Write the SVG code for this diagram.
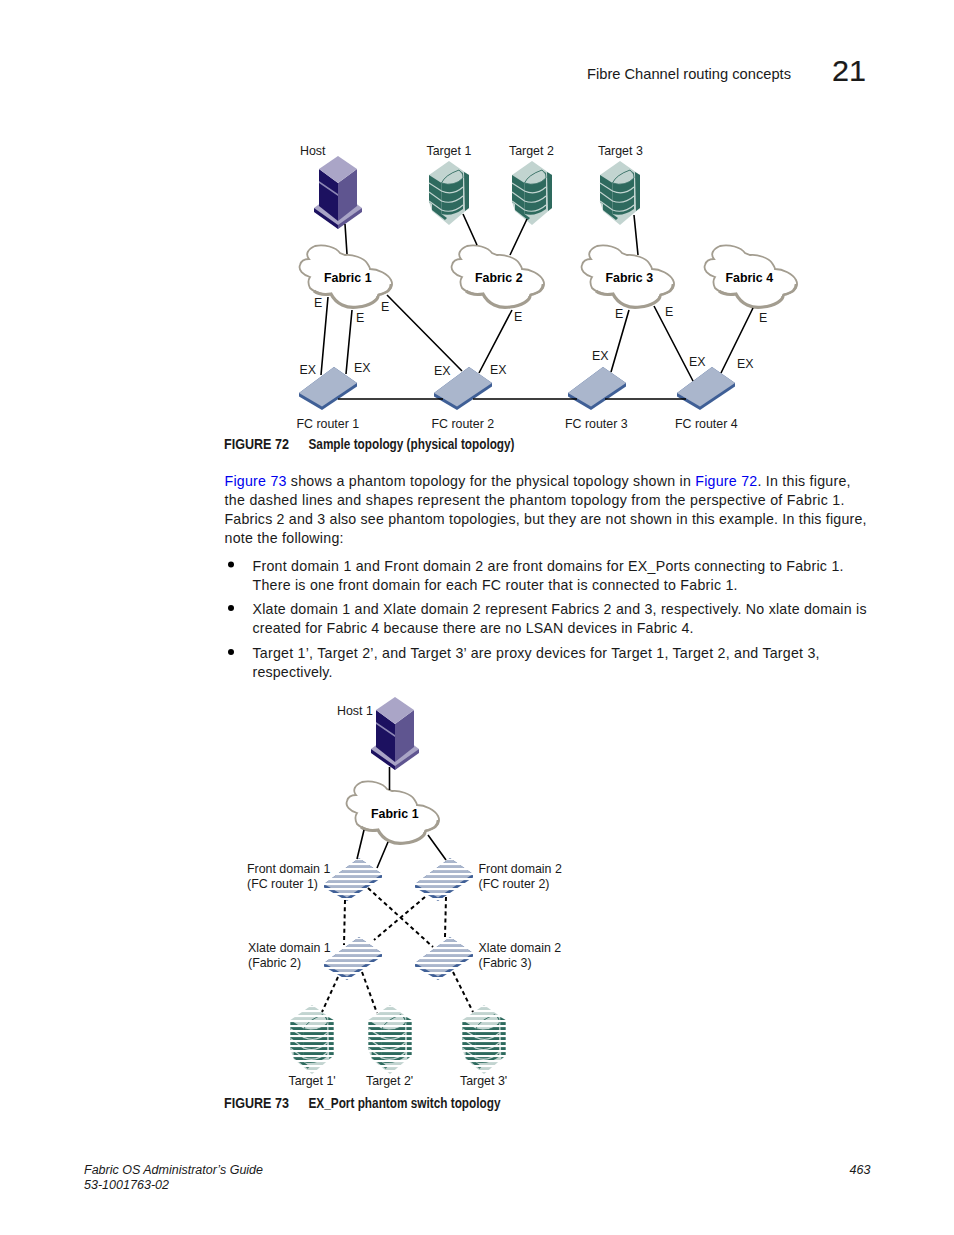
<svg xmlns="http://www.w3.org/2000/svg" xmlns:xlink="http://www.w3.org/1999/xlink" width="954" height="1235" viewBox="0 0 954 1235">
<style>
text{font-family:"Liberation Sans",Arial,sans-serif;fill:#1a1a1a}
.l{font-size:12.4px}
.b{font-size:14.2px}
.f{font-size:12.4px;font-weight:700;fill:#000}
.c{font-family:"Liberation Sans Narrow","Liberation Sans",sans-serif;font-weight:700;font-size:15px}
.i{font-size:12.5px;font-style:italic}
.a{fill:#0000ee}
.s{stroke:#000;stroke-width:1.6;fill:none}
.d{stroke:#000;stroke-width:2;stroke-dasharray:4 3.2;fill:none}
</style>
<defs>
<g id="host">
<polygon points="-24,52 0,34 24,52 0,73" fill="#a9a4c6"/>
<polygon points="-24,52 0,69 0,73 -24,56" fill="#1c1160"/>
<polygon points="24,52 0,69 0,73 24,56" fill="#5f5590"/>
<polygon points="-19,13 0,27 0,65 -19,50" fill="#1c1160"/>
<polygon points="19,13 0,27 0,65 19,50" fill="#5f5590"/>
<polygon points="-19,25 0,38 0,40 -19,27" fill="#8d87b4"/>
<polygon points="0,0 19,13 0,27 -19,13" fill="#aaa5c7"/>
</g>
<g id="tgt">
<polygon points="0,0 20,14 20,47 0,64 -17,50 -20,41 -20,14" fill="#c2d4d0"/>
<polygon points="-20,14 -7.5,22 -7.5,53 -2,57 -4,59 -17,49 -17,43 -20,41" fill="#2e6a5e"/>
<polygon points="15,11 20,14 20,47 16,50" fill="#2e6a5e"/>
<path d="M-7.5,22Q-4,14 10,9L14,12V48Q3,56 -7.5,53Z" fill="#2e6a5e"/>
<path d="M-7.5,22Q-4,14 10,9Q15,13 14,17Q5,26 -7.5,22Z" fill="#c2d4d0" stroke="#2e6a5e" stroke-width=".8"/>
<path d="M-20,22L-7.5,30Q4,35 14,26M-20,31L-7.5,40Q4,44 14,35M-20,40L-7.5,49Q4,53 14,44" fill="none" stroke="#c2d4d0" stroke-width="1.2"/>
</g>
<g id="rtr">
<polygon points="0,0 23,16 23,19.500 -12,43 -35,29.500 -35,26" fill="#3f5f96"/>
<polygon points="0,0 23,16 -12,39.500 -35,26" fill="#aab6cc"/>
</g>
<g id="cloud">
<path d="M10,31C3,29 -2,24 0,19C1,15 5,13 9,13C5,8 8,3 15,0C24,-2 36,1 40,7L45,9C52,8 64,12 67,17C69,20 70,22 70,23C78,23 88,28 91,34C94,40 90,45 85,47C82,48 79,48 78,49C78,54 70,60 58,61C47,63 36,58 31,48C25,49 15,47 10,42C8,38 8,34 10,31Z" fill="#fff" stroke="#a39d90" stroke-width="1.8"/>
<path d="M78,50C78,54 70,60 58,61C47,63 36,58 31,48C25,49 18,48 14,45" fill="none" stroke="#a39d90" stroke-width="3.2"/>
<path d="M91,38C91,44 87,47 78,49" fill="none" stroke="#a39d90" stroke-width="2.6"/>
</g>
<pattern id="st" patternUnits="userSpaceOnUse" width="10" height="5"><rect width="10" height="2.1" fill="#fff"/></pattern>
<g id="prt"><use xlink:href="#rtr"/><rect x="-37" y="1" width="63" height="44" fill="url(#st)"/></g>
</defs>

<g id="page-text">
<text x="587" y="79" font-size="14.3" textLength="204" lengthAdjust="spacingAndGlyphs">Fibre Channel routing concepts</text>
<text x="832" y="81" font-size="30" textLength="34" lengthAdjust="spacingAndGlyphs" stroke="#1a1a1a" stroke-width=".2">21</text>
<text class="c" x="224" y="449" textLength="65" lengthAdjust="spacingAndGlyphs">FIGURE 72</text>
<text class="c" x="308.5" y="449" textLength="206" lengthAdjust="spacingAndGlyphs">Sample topology (physical topology)</text>
<text class="b" x="224.5" y="486" textLength="626"><tspan class="a">Figure 73</tspan> shows a phantom topology for the physical topology shown in <tspan class="a">Figure 72</tspan>. In this figure,</text>
<text class="b" x="224.5" y="505" textLength="620">the dashed lines and shapes represent the phantom topology from the perspective of Fabric 1.</text>
<text class="b" x="224.5" y="524" textLength="642">Fabrics 2 and 3 also see phantom topologies, but they are not shown in this example. In this figure,</text>
<text class="b" x="224.5" y="543" textLength="119">note the following:</text>
<circle cx="231" cy="564.500" r="3" fill="#000"/>
<text class="b" x="252.5" y="571" textLength="591">Front domain 1 and Front domain 2 are front domains for EX_Ports connecting to Fabric 1.</text>
<text class="b" x="252.5" y="590" textLength="485">There is one front domain for each FC router that is connected to Fabric 1.</text>
<circle cx="231" cy="608" r="3" fill="#000"/>
<text class="b" x="252.5" y="614" textLength="614">Xlate domain 1 and Xlate domain 2 represent Fabrics 2 and 3, respectively. No xlate domain is</text>
<text class="b" x="252.5" y="633" textLength="441">created for Fabric 4 because there are no LSAN devices in Fabric 4.</text>
<circle cx="231" cy="652" r="3" fill="#000"/>
<text class="b" x="252.5" y="658" textLength="567">Target 1’, Target 2’, and Target 3’ are proxy devices for Target 1, Target 2, and Target 3,</text>
<text class="b" x="252.5" y="677" textLength="80">respectively.</text>
<text class="c" x="224" y="1108" textLength="65" lengthAdjust="spacingAndGlyphs">FIGURE 73</text>
<text class="c" x="308.5" y="1108" textLength="192" lengthAdjust="spacingAndGlyphs">EX_Port phantom switch topology</text>
<text class="i" x="84" y="1174" textLength="179">Fabric OS Administrator’s Guide</text>
<text class="i" x="84" y="1189" textLength="85">53-1001763-02</text>
<text class="i" x="849.5" y="1174">463</text>
</g>

<g id="host-node"><use xlink:href="#host" x="338" y="156"/><text class="l" x="300" y="155">Host</text></g>
<g id="target1"><use xlink:href="#tgt" x="449" y="161"/><text class="l" x="426.5" y="155">Target 1</text></g>
<g id="target2"><use xlink:href="#tgt" x="532" y="161"/><text class="l" x="509" y="155">Target 2</text></g>
<g id="target3"><use xlink:href="#tgt" x="620" y="161"/><text class="l" x="598" y="155">Target 3</text></g>
<g id="fabric1"><use xlink:href="#cloud" x="300" y="246"/><text class="f" x="324" y="282">Fabric 1</text></g>
<g id="fabric2"><use xlink:href="#cloud" x="452" y="246"/><text class="f" x="475" y="282">Fabric 2</text></g>
<g id="fabric3"><use xlink:href="#cloud" x="582" y="246"/><text class="f" x="605.5" y="282">Fabric 3</text></g>
<g id="fabric4"><use xlink:href="#cloud" x="705" y="246"/><text class="f" x="725.5" y="282">Fabric 4</text></g>
<g id="router1"><use xlink:href="#rtr" x="334" y="367"/><text class="l" x="296.5" y="428">FC router 1</text></g>
<g id="router2"><use xlink:href="#rtr" x="469" y="367"/><text class="l" x="431.5" y="428">FC router 2</text></g>
<g id="router3"><use xlink:href="#rtr" x="603" y="367"/><text class="l" x="565" y="428">FC router 3</text></g>
<g id="router4"><use xlink:href="#rtr" x="712" y="367"/><text class="l" x="675" y="428">FC router 4</text></g>
<g id="port-labels">
<text class="l" x="314" y="307">E</text><text class="l" x="356" y="322">E</text><text class="l" x="381" y="311">E</text><text class="l" x="514" y="321">E</text><text class="l" x="615" y="318">E</text><text class="l" x="665" y="316">E</text><text class="l" x="759" y="322">E</text>
<text class="l" x="299.5" y="374">EX</text><text class="l" x="354" y="372">EX</text><text class="l" x="434" y="375">EX</text><text class="l" x="490" y="374">EX</text><text class="l" x="592" y="360">EX</text><text class="l" x="689" y="366">EX</text><text class="l" x="737" y="368">EX</text>
</g>

<g id="host1"><use xlink:href="#host" x="395" y="697"/><text class="l" x="337" y="715">Host 1</text></g>
<g id="fabric1b"><use xlink:href="#cloud" x="347" y="782"/><text class="f" x="371" y="818">Fabric 1</text></g>
<g id="front1"><use xlink:href="#prt" x="359" y="858"/><text class="l" x="247" y="873">Front domain 1</text><text class="l" x="247" y="888">(FC router 1)</text></g>
<g id="front2"><use xlink:href="#prt" x="450" y="858"/><text class="l" x="478.5" y="873">Front domain 2</text><text class="l" x="478.5" y="888">(FC router 2)</text></g>
<g id="xlate1"><use xlink:href="#prt" x="359" y="937"/><text class="l" x="248" y="952">Xlate domain 1</text><text class="l" x="248" y="967">(Fabric 2)</text></g>
<g id="xlate2"><use xlink:href="#prt" x="450" y="937"/><text class="l" x="478.5" y="952">Xlate domain 2</text><text class="l" x="478.5" y="967">(Fabric 3)</text></g>
<g id="ptarget1"><use xlink:href="#tgt" transform="translate(312,1005) scale(1.08)"/><rect x="288" y="1006" width="48" height="68" fill="url(#st)"/><text class="l" x="288.5" y="1085">Target 1'</text></g>
<g id="ptarget2"><use xlink:href="#tgt" transform="translate(390,1005) scale(1.08)"/><rect x="366" y="1006" width="48" height="68" fill="url(#st)"/><text class="l" x="366" y="1085">Target 2'</text></g>
<g id="ptarget3"><use xlink:href="#tgt" transform="translate(484,1005) scale(1.08)"/><rect x="460" y="1006" width="48" height="68" fill="url(#st)"/><text class="l" x="460" y="1085">Target 3'</text></g>

<g id="connectors">
<path class="s" d="M345,224L347,254M463,214L477,245M527,219L510,255M634,215L638,255M328,297L321,375M352,310L346,374M387,295L462,371M512,310L479,373M629,310L611,372M654,306L693,381M753,308L721,373M338,399H443M473,399H577M605,399H686"/>
<path class="s" d="M389.5,767V790M364,830L357,859M388,842L377,868M428,835L446,860"/>
<path class="d" d="M345,900L344,945M446,897L445,937M368,888L433,947M425,897L374,940M338,977L322,1012M362,972L377,1013M453,972L473,1012"/>
</g>
</svg>
